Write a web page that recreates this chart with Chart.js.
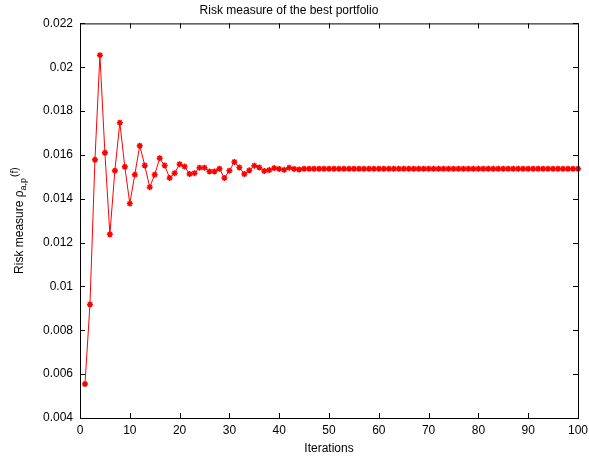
<!DOCTYPE html>
<html>
<head>
<meta charset="utf-8">
<script src="https://cdn.jsdelivr.net/npm/chart.js@4.4.0/dist/chart.umd.min.js"></script>
<style>
  html, body { margin: 0; padding: 0; background: #fff; }
  #wrap { width: 589px; height: 463px; }
</style>
</head>
<body>
<div id="wrap"><canvas id="myChart"></canvas></div>
<script>
const FONT = '"Liberation Sans", Arial, Helvetica, sans-serif';

const iterations = Array.from({ length: 100 }, (_, i) => i + 1);

const riskValues = [
  0.00555, 0.00918, 0.01578, 0.02055, 0.01610, 0.01238, 0.01528, 0.01747, 0.01546, 0.01378,
  0.01510, 0.01642, 0.01552, 0.01453, 0.01510, 0.01585, 0.01552, 0.01495, 0.01517, 0.01558,
  0.01547, 0.01513, 0.01517, 0.01542, 0.01542, 0.01525, 0.01525, 0.01537, 0.01495, 0.01528,
  0.01568, 0.01543, 0.01513, 0.01530, 0.01551, 0.01543, 0.01527, 0.01531, 0.01540, 0.01536,
  0.01532, 0.01542, 0.01536, 0.01534, 0.01537, 0.01537, 0.01537, 0.01537, 0.01537, 0.01537,
  0.01537, 0.01537, 0.01537, 0.01537, 0.01537, 0.01537, 0.01537, 0.01537, 0.01537, 0.01537,
  0.01537, 0.01537, 0.01537, 0.01537, 0.01537, 0.01537, 0.01537, 0.01537, 0.01537, 0.01537,
  0.01537, 0.01537, 0.01537, 0.01537, 0.01537, 0.01537, 0.01537, 0.01537, 0.01537, 0.01537,
  0.01537, 0.01537, 0.01537, 0.01537, 0.01537, 0.01537, 0.01537, 0.01537, 0.01537, 0.01537,
  0.01537, 0.01537, 0.01537, 0.01537, 0.01537, 0.01537, 0.01537, 0.01537, 0.01537, 0.01537
];

const xTicks = [0, 10, 20, 30, 40, 50, 60, 70, 80, 90, 100];
const yTickLabels = ['0.004', '0.006', '0.008', '0.01', '0.012', '0.014', '0.016', '0.018', '0.02', '0.022'];

// matlab style box with inward ticks on all four sides
const boxPlugin = {
  id: 'box',
  afterDraw(chart) {
    const { ctx, chartArea: a, scales } = chart;
    const len = 5;
    ctx.save();
    ctx.strokeStyle = '#000';
    ctx.lineWidth = 1;
    ctx.strokeRect(a.left + 0.5, a.top + 0.5, a.right - a.left, a.bottom - a.top);
    ctx.beginPath();
    scales.x.ticks.forEach(t => {
      const px = Math.round(scales.x.getPixelForValue(t.value)) + 0.5;
      ctx.moveTo(px, a.bottom); ctx.lineTo(px, a.bottom - len);
      ctx.moveTo(px, a.top); ctx.lineTo(px, a.top + len);
    });
    scales.y.ticks.forEach(t => {
      const py = Math.round(scales.y.getPixelForValue(t.value)) + 0.5;
      ctx.moveTo(a.left, py); ctx.lineTo(a.left + len, py);
      ctx.moveTo(a.right, py); ctx.lineTo(a.right - len, py);
    });
    ctx.stroke();

    // y axis label with sub/superscript
    const cy = (a.top + a.bottom) / 2;
    const main = 'Risk measure \u03c1', sub = 'a,p', sup = '(f)';
    ctx.fillStyle = '#000';
    ctx.font = '12px ' + FONT;
    const w1 = ctx.measureText(main).width;
    ctx.font = '9px ' + FONT;
    const w2 = ctx.measureText(sub).width;
    ctx.font = '10px ' + FONT;
    const w3 = ctx.measureText(sup).width;
    const total = w1 + w2 + w3 + 1;
    ctx.translate(23, cy);
    ctx.rotate(-Math.PI / 2);
    ctx.textBaseline = 'alphabetic';
    let x0 = -total / 2;
    ctx.font = '12px ' + FONT;
    ctx.fillText(main, x0, 0);
    ctx.font = '9px ' + FONT;
    ctx.fillText(sub, x0 + w1, 3);
    ctx.font = '10px ' + FONT;
    ctx.fillText(sup, x0 + w1 + w2 + 1, -5);
    ctx.restore();
  }
};

new Chart(document.getElementById('myChart'), {
  type: 'line',
  data: {
    labels: iterations,
    datasets: [{
      data: riskValues,
      borderColor: '#ff0000',
      backgroundColor: '#ff0000',
      borderWidth: 1,
      pointStyle: 'star',
      pointRadius: 3,
      pointBorderWidth: 1.5,
      pointBorderColor: '#ff0000',
      tension: 0,
      clip: false
    }]
  },
  options: {
    responsive: true,
    maintainAspectRatio: false,
    animation: false,
    layout: { padding: { top: 0, right: 11, left: 0, bottom: 0 } },
    plugins: {
      legend: { display: false },
      tooltip: { enabled: false },
      title: {
        display: true,
        text: 'Risk measure of the best portfolio',
        color: '#000',
        font: { family: FONT, size: 12, weight: 'normal' },
        padding: { top: 3, bottom: 6 }
      }
    },
    scales: {
      x: {
        type: 'linear',
        min: 0,
        max: 100,
        afterBuildTicks: s => { s.ticks = xTicks.map(v => ({ value: v })); },
        grid: { display: false, drawTicks: false },
        border: { display: false },
        ticks: { color: '#000', font: { family: FONT, size: 12 }, padding: 5, maxRotation: 0 },
        title: {
          display: true,
          text: 'Iterations',
          color: '#000',
          font: { family: FONT, size: 12 },
          padding: { top: 4, bottom: 7 }
        },
        afterFit: s => { s.height = 45; s.paddingLeft = 0; s.paddingRight = 0; }
      },
      y: {
        min: 0.004,
        max: 0.022,
        afterBuildTicks: s => { s.ticks = yTickLabels.map(v => ({ value: parseFloat(v) })); },
        grid: { display: false, drawTicks: false },
        border: { display: false },
        ticks: {
          color: '#000',
          font: { family: FONT, size: 12 },
          padding: 7,
          callback: (v, i) => yTickLabels[i]
        },
        afterFit: s => { s.width = 80; s.paddingTop = 0; s.paddingBottom = 0; }
      }
    }
  },
  plugins: [boxPlugin]
});
</script>
</body>
</html>
